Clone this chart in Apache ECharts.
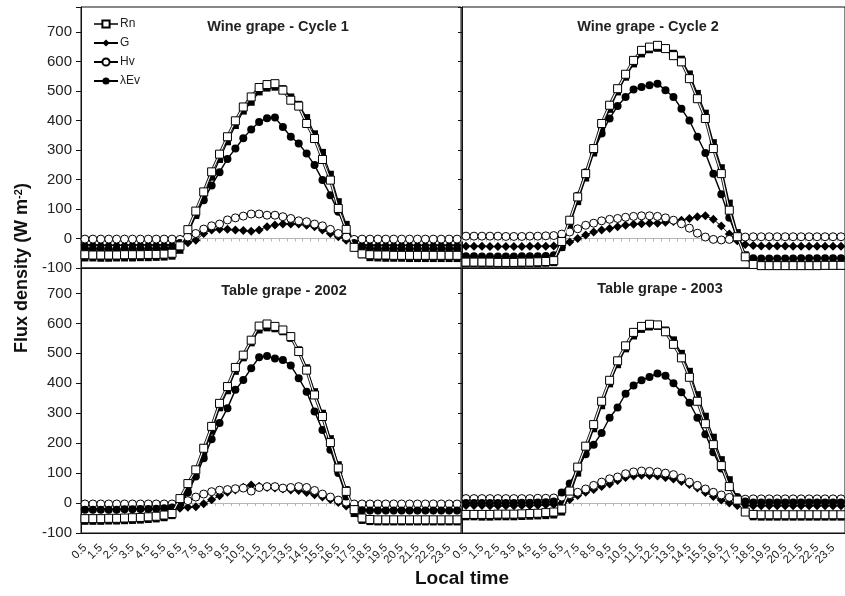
<!DOCTYPE html>
<html><head><meta charset="utf-8">
<script src="https://cdn.jsdelivr.net/npm/echarts@6/dist/echarts.min.js"></script>
<style>html,body{margin:0;padding:0;background:#fff}#c{width:845px;height:596px}</style>
</head><body><div id="c"></div>
<script>
// Local time categories (half-hourly); only the x.5 ones are labelled
const hours = ['0.5','1','1.5','2','2.5','3','3.5','4','4.5','5','5.5','6','6.5','7','7.5','8','8.5','9','9.5','10','10.5','11','11.5','12',
  '12.5','13','13.5','14','14.5','15','15.5','16','16.5','17','17.5','18','18.5','19','19.5','20','20.5','21','21.5','22','22.5','23','23.5','24'];
const yTicks = [-100, 0, 100, 200, 300, 400, 500, 600, 700];
const panelTitles = ['Wine grape - Cycle 1', 'Wine grape - Cycle 2', 'Table grape - 2002', 'Table grape - 2003'];
const legendNames = ['Rn', 'G', 'Hv', 'λEv'];

// Panel 1: Wine grape - Cycle 1
const rn_wc1  = [-55,-56,-56,-56,-56,-55,-55,-55,-54,-54,-53,-50, -25,30,93,158,226,286,345,399,446,480,512,522, 525,503,469,449,390,339,268,198,102,31,-30,-52, -55,-56,-56,-57,-57,-57,-57,-57,-57,-57,-57,-57];
const rnB_wc1 = [-66,-66,-67,-67,-66,-66,-66,-65,-65,-64,-63,-60, -40,15,78,140,208,268,328,383,432,462,497,510, 513,508,480,455,410,355,292,218,125,48,-15,-55, -65,-66,-67,-67,-67,-68,-68,-68,-68,-68,-68,-68];
const g_wc1   = [-22,-22,-23,-23,-23,-23,-22,-22,-22,-22,-22,-22, -20,-14,-6,17,29,31,31,29,27,25,29,40, 46,49,49,49,45,40,29,17,6,-6,-18,-22, -23,-23,-23,-23,-23,-23,-23,-23,-23,-23,-23,-23];
const hv_wc1  = [-2,-2,-2,-2,-2,-2,-2,-2,-2,-2,-2,-2, -3,5,17,32,43,49,63,70,76,83,83,79, 79,74,68,60,57,49,43,31,17,6,-3,-2, -2,-2,-2,-2,-2,-2,-2,-2,-2,-2,-2,-2];
const le_wc1  = [-35,-35,-35,-36,-36,-36,-35,-35,-35,-34,-34,-33, -15,30,80,130,180,225,270,305,340,370,395,408, 410,378,345,322,288,249,198,147,91,29,-15,-30, -34,-35,-35,-35,-35,-35,-35,-35,-35,-35,-35,-35];

// Panel 2: Wine grape - Cycle 2
const rn_wc2  = [-80,-80,-80,-80,-81,-81,-81,-80,-80,-79,-78,-75, -10,62,141,220,305,390,452,508,557,604,638,649, 655,644,620,599,542,474,407,305,220,96,6,-62, -88,-92,-92,-92,-92,-92,-92,-92,-92,-91,-91,-91];
const rnB_wc2 = [-85,-85,-86,-86,-86,-86,-86,-86,-85,-85,-84,-82, -30,45,125,205,290,372,438,497,547,592,626,640, 645,644,628,608,558,492,425,325,240,120,20,-55, -90,-95,-95,-95,-95,-95,-95,-95,-95,-94,-94,-94];
const g_wc2   = [-26,-26,-26,-27,-27,-27,-27,-27,-26,-26,-26,-25, -22,-12,0,12,22,29,34,40,45,48,50,52, 52,55,58,62,68,74,77,65,42,15,-8,-20, -24,-25,-25,-25,-25,-26,-26,-26,-26,-26,-26,-26];
const hv_wc2  = [8,8,8,8,8,7,7,7,8,8,9,10, 15,22,33,45,52,60,65,68,72,75,77,77, 75,70,62,50,35,18,5,-3,-5,-3,2,5, 6,6,6,6,6,6,6,6,6,6,6,6];
const le_wc2  = [-60,-60,-61,-61,-61,-61,-61,-60,-60,-60,-59,-57, -30,57,145,225,294,356,407,449,480,505,514,520, 525,503,480,440,400,345,290,220,150,70,0,-62, -67,-68,-68,-68,-68,-68,-67,-67,-67,-67,-67,-67];

// Panel 3: Table grape - 2002
const rn_tg02  = [-52,-52,-52,-51,-51,-50,-49,-48,-46,-44,-40,-35, 15,65,111,183,256,333,389,453,494,544,591,598, 590,578,556,506,444,361,289,202,117,39,-22,-50, -55,-56,-56,-56,-56,-56,-56,-56,-56,-56,-56,-56];
const rnB_tg02 = [-61,-61,-61,-60,-60,-59,-58,-57,-55,-53,-49,-42, 0,45,95,165,240,318,375,440,485,535,578,585, 582,572,550,512,452,372,300,215,128,45,-35,-58, -62,-63,-63,-63,-63,-63,-63,-63,-63,-63,-63,-63];
const g_tg02   = [-20,-20,-20,-21,-21,-21,-21,-20,-20,-19,-18,-17, -17,-14,-12,-2,11,24,36,44,53,60,56,52, 50,47,44,42,35,28,20,12,2,-10,-20,-22, -23,-23,-23,-23,-23,-23,-23,-23,-23,-23,-23,-23];
const hv_tg02  = [-3,-3,-3,-3,-3,-3,-3,-3,-3,-3,-3,-3, 0,8,20,30,38,43,45,48,50,40,52,55, 55,50,52,55,52,42,30,20,10,3,-3,-3, -3,-3,-3,-3,-3,-3,-3,-3,-3,-3,-3,-3];
const le_tg02  = [-22,-22,-22,-22,-22,-21,-21,-20,-20,-19,-17,-15, -5,35,89,150,213,267,317,378,411,450,487,491, 483,478,459,417,372,306,244,178,100,22,-20,-24, -25,-25,-25,-25,-25,-25,-25,-25,-25,-25,-25,-25];

// Panel 4: Table grape - 2003
const rn_tg03  = [-38,-38,-38,-38,-37,-37,-37,-36,-35,-34,-32,-30, -20,40,120,190,262,340,410,475,525,570,590,597, 595,572,530,485,420,340,265,195,125,55,10,-30, -38,-39,-39,-39,-39,-39,-39,-39,-39,-39,-39,-39];
const rnB_tg03 = [-46,-46,-47,-47,-46,-46,-46,-45,-44,-43,-42,-40, -30,25,100,175,248,325,398,462,515,558,580,588, 590,578,545,500,440,362,290,220,145,78,15,-30, -46,-47,-47,-47,-47,-47,-47,-47,-47,-47,-47,-47];
const g_tg03   = [-8,-8,-8,-9,-9,-9,-9,-8,-8,-7,-6,-5, 0,12,25,36,45,55,64,75,85,90,93,92, 90,85,80,72,62,50,35,22,10,0,-8,-8, -9,-9,-9,-9,-9,-9,-9,-9,-9,-9,-9,-9];
const hv_tg03  = [15,15,15,15,15,15,15,15,15,16,16,17, 20,28,36,47,59,70,81,87,98,104,107,106, 104,100,95,84,70,59,47,36,27,19,13,13, 14,14,14,14,14,14,14,14,14,14,14,14];
const le_tg03  = [0,0,0,0,0,0,0,1,1,2,3,5, 35,65,115,163,195,234,285,319,365,393,410,421, 433,425,400,370,335,285,230,170,115,55,20,5, 2,2,2,2,2,2,2,2,2,2,2,2];

const panels = [
  {rn: rn_wc1,  rnB: rnB_wc1,  g: g_wc1,  hv: hv_wc1,  le: le_wc1},
  {rn: rn_wc2,  rnB: rnB_wc2,  g: g_wc2,  hv: hv_wc2,  le: le_wc2},
  {rn: rn_tg02, rnB: rnB_tg02, g: g_tg02, hv: hv_tg02, le: le_tg02},
  {rn: rn_tg03, rnB: rnB_tg03, g: g_tg03, hv: hv_tg03, le: le_tg03}
];

const FONT = '"Liberation Sans", Arial, Helvetica, sans-serif';
const gridBoxes = [
  {left: 81,  top: 7,   width: 380, height: 261},
  {left: 462, top: 7,   width: 384, height: 261},
  {left: 81,  top: 268, width: 380, height: 265},
  {left: 462, top: 268, width: 384, height: 265}
];
const titlePos = [[278, 27], [648, 27], [284, 291], [660, 289]];

const grid = [], xAxis = [], yAxis = [], series = [];
gridBoxes.forEach((b, k) => {
  grid.push(Object.assign({show: true, borderColor: '#111', borderWidth: 1, containLabel: false}, b));
  const isLeft = k % 2 === 0, isBottom = k >= 2;
  xAxis.push({
    type: 'category', gridIndex: k, data: hours, position: 'bottom', boundaryGap: true,
    axisLine: {show: true, onZero: false, lineStyle: {color: '#111', width: 1}},
    axisTick: {show: false},
    axisLabel: {show: isBottom, interval: 0, rotate: 45, fontSize: 11.5, margin: 13, color: '#222', fontFamily: FONT,
      showMinLabel: true, showMaxLabel: true, hideOverlap: false,
      formatter: v => (v.indexOf('.5') >= 0 ? v : '')},
    splitLine: {show: false}
  });
  xAxis.push({
    type: 'category', gridIndex: k, data: hours, position: 'top', boundaryGap: true,
    axisLine: {show: true, onZero: true, lineStyle: {color: '#b5b5b5', width: 1}},
    axisTick: {show: true, inside: true, length: 3, interval: 0, lineStyle: {color: '#b5b5b5'}},
    axisLabel: {show: false}, splitLine: {show: false}
  });
  yAxis.push({
    type: 'value', gridIndex: k, min: yTicks[0], max: 785, interval: 100,
    axisLine: {show: true, lineStyle: {color: '#111', width: 1}},
    axisTick: {show: true, length: isLeft ? 5 : 4, lineStyle: {color: '#111'}},
    axisLabel: {show: isLeft, fontSize: 15, color: '#222', margin: 9, fontFamily: FONT,
      showMinLabel: true, formatter: v => (yTicks.indexOf(v) >= 0 ? String(v) : '')},
    splitLine: {show: false}
  });
  const p = panels[k];
  const common = {type: 'line', xAxisIndex: 2 * k, yAxisIndex: k, showAllSymbol: true, animation: false};
  series.push(Object.assign({}, common, {name: '_rnline', data: p.rn, symbol: 'none', silent: true,
    lineStyle: {color: '#222', width: 3}, z: 2}));
  series.push(Object.assign({}, common, {name: '_rnB', data: p.rnB, symbol: 'rect', symbolSize: 7,
    itemStyle: {color: '#000'}, lineStyle: {color: '#000', width: 1.2}, z: 3}));
  series.push(Object.assign({}, common, {name: 'Rn', data: p.rn, symbol: 'rect', symbolSize: 8,
    itemStyle: {color: '#fff', borderColor: '#000', borderWidth: 1}, lineStyle: {color: '#fff', width: 1.1}, z: 5}));
  series.push(Object.assign({}, common, {name: 'G', data: p.g, symbol: 'diamond', symbolSize: 9,
    itemStyle: {color: '#000'}, lineStyle: {color: '#000', width: 1}, z: 4}));
  series.push(Object.assign({}, common, {name: 'Hv', data: p.hv, symbol: 'circle', symbolSize: 8,
    itemStyle: {color: '#fff', borderColor: '#000', borderWidth: 1}, lineStyle: {color: '#000', width: 1}, z: 4}));
  series.push(Object.assign({}, common, {name: 'λEv', data: p.le, symbol: 'circle', symbolSize: 8,
    itemStyle: {color: '#000'}, lineStyle: {color: '#000', width: 1.4}, z: 4}));
});

const graphic = [];
panelTitles.forEach((t, k) => {
  graphic.push({type: 'text', x: titlePos[k][0], y: titlePos[k][1], z: 100,
    style: {text: t, fill: '#222', font: 'bold 14.5px ' + FONT, align: 'center', verticalAlign: 'middle',
      textAlign: 'center', textVerticalAlign: 'middle'}});
});
graphic.push({type: 'text', x: 462, y: 579, z: 100,
  style: {text: 'Local time', fill: '#111', font: 'bold 19px ' + FONT, align: 'center', verticalAlign: 'middle',
    textAlign: 'center', textVerticalAlign: 'middle'}});
graphic.push({type: 'text', x: 22, y: 268, rotation: Math.PI / 2, z: 100,
  style: {text: 'Flux density (W m{s|-2})', fill: '#111', font: 'bold 18px ' + FONT,
    fontSize: 18, fontWeight: 'bold', fontFamily: FONT,
    align: 'center', verticalAlign: 'middle', textAlign: 'center', textVerticalAlign: 'middle',
    rich: {s: {fontSize: 11, fontWeight: 'bold', fontFamily: FONT, fill: '#111', verticalAlign: 'top', lineHeight: 12}}}});

const chart = echarts.init(document.getElementById('c'), null, {renderer: 'canvas'});
chart.setOption({
  animation: false,
  backgroundColor: '#fff',
  textStyle: {fontFamily: FONT},
  legend: {
    data: [{name: legendNames[0], lineStyle: {color: '#000', width: 1.5}}, legendNames[1], legendNames[2], legendNames[3]],
    orient: 'vertical', left: 93, top: 18, itemWidth: 24, itemHeight: 9, itemGap: 7, padding: 0,
    selectedMode: false, textStyle: {fontSize: 12, color: '#222', fontFamily: FONT, padding: [0, 0, 0, -3]}
  },
  grid, xAxis, yAxis, series, graphic
});
</script></body></html>
